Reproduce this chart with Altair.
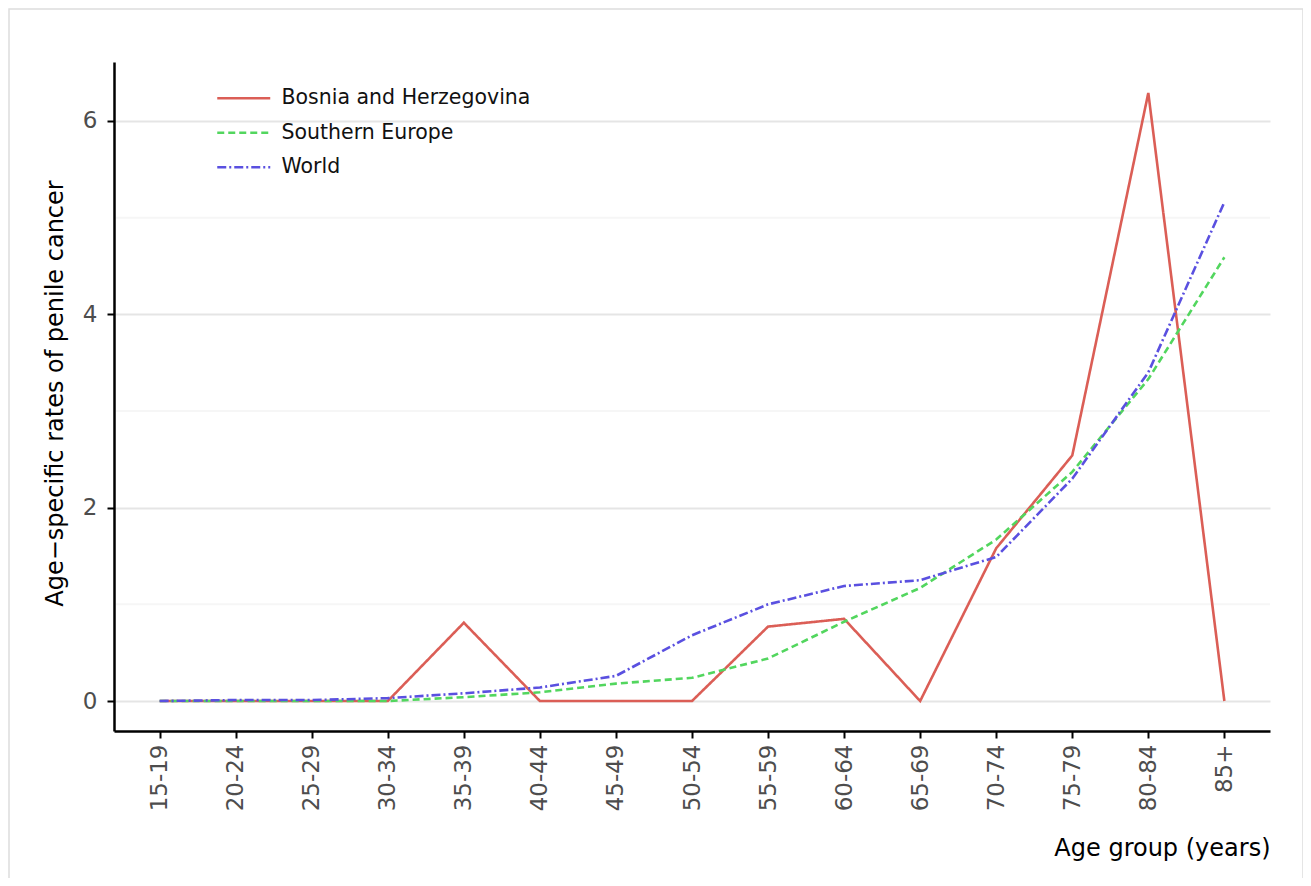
import altair as alt
import pandas as pd

ages = ["15-19", "20-24", "25-29", "30-34", "35-39", "40-44", "45-49", "50-54",
        "55-59", "60-64", "65-69", "70-74", "75-79", "80-84", "85+"]
bosnia = [0, 0, 0, 0, 0.81, 0, 0, 0, 0.77, 0.85, 0, 1.58, 2.54, 6.29, 0]
southern_europe = [0, 0, 0, 0.0, 0.04, 0.09, 0.18, 0.24, 0.44, 0.82, 1.17, 1.67, 2.37, 3.33, 4.59]
world = [0, 0.01, 0.01, 0.03, 0.08, 0.14, 0.26, 0.68, 1.0, 1.19, 1.25, 1.49, 2.3, 3.4, 5.16]
series = ["Bosnia and Herzegovina", "Southern Europe", "World"]
minor_ticks = [1, 3, 5]
major_ticks = [0, 2, 4, 6]
colors = ["#DB5E56", "#52D65E", "#5A50E0"]
dashes = [[1, 0], [7, 4], [9, 3, 2, 3]]

rows = []
for name, vals in zip(series, [bosnia, southern_europe, world]):
    for a, v in zip(ages, vals):
        rows.append({"age": a, "rate": v, "series": name})
df = pd.DataFrame(rows)

W, H = 1156, 669
ydom = [-0.31, 6.61]
FONT = "DejaVu Sans"

y_axis = alt.Axis(title="Age\u2212specific rates of penile cancer", values=major_ticks,
                  format="d", grid=True, gridColor="#e5e5e5", gridWidth=2,
                  domainColor="black", domainWidth=2.5, tickColor="black",
                  tickWidth=2, tickSize=7, labelPadding=10,
                  labelFont=FONT, labelFontSize=23, labelColor="#4d4d4d",
                  titleFont=FONT, titleFontSize=24, titleFontWeight="normal",
                  titleColor="black", titleAngle=-90, titleAlign="center",
                  titleBaseline="middle", titleX=-59, titleY=331)
y_scale = alt.Scale(domain=ydom, nice=False, zero=False)

frame = alt.Chart(pd.DataFrame({"k": [0]})).mark_rect(
    fill=None, stroke="#dddddd", strokeWidth=1.5, clip=False
).encode(
    x=alt.value(-105), x2=alt.value(1189), y=alt.value(-53), y2=alt.value(H + 200)
)

minor = alt.Chart(pd.DataFrame({"v": minor_ticks})).mark_rule(
    color="#f6f6f6", strokeWidth=2
).encode(y=alt.Y("v:Q", scale=y_scale, axis=y_axis), x=alt.value(2), x2=alt.value(W))

lines = alt.Chart(df).mark_line(strokeWidth=2.6).encode(
    x=alt.X("age:N", sort=ages, scale=alt.Scale(type="point", padding=0.6),
            axis=alt.Axis(title="Age group (years)", labelAngle=-90, labelAlign="right",
                          labelBaseline="middle", labelPadding=6, grid=False,
                          domainColor="black", domainWidth=2.5, tickColor="black",
                          tickWidth=2, tickSize=7,
                          labelFont=FONT, labelFontSize=23, labelColor="#4d4d4d",
                          titleFont=FONT, titleFontSize=24, titleFontWeight="normal",
                          titleColor="black", titleAlign="right", titleAnchor="end",
                          titleBaseline="alphabetic", titleX=W, titleY=124)),
    y=alt.Y("rate:Q", scale=y_scale, axis=y_axis),
    color=alt.Color("series:N", sort=series,
                    scale=alt.Scale(domain=series, range=colors),
                    legend=alt.Legend(title=None, orient="none", legendX=115.25, legendY=21.75,
                                      symbolType="M-2,0H2", symbolSize=702,
                                      symbolStrokeWidth=2.5, labelFontSize=20.5,
                                      labelFont=FONT, labelColor="#111111",
                                      labelLimit=500, rowPadding=9.5, labelOffset=23.25)),
    strokeDash=alt.StrokeDash("series:N", sort=series,
                              scale=alt.Scale(domain=series, range=dashes), legend=None),
)

chart = alt.layer(frame, minor, lines).properties(
    width=W, height=H,
    autosize=alt.AutoSizeParams(type="none"),
    padding={"left": 106, "top": 54, "right": 33, "bottom": 147},
).configure_view(stroke=None)

chart.save("out.html", embed_options={"renderer": "svg", "actions": False})
